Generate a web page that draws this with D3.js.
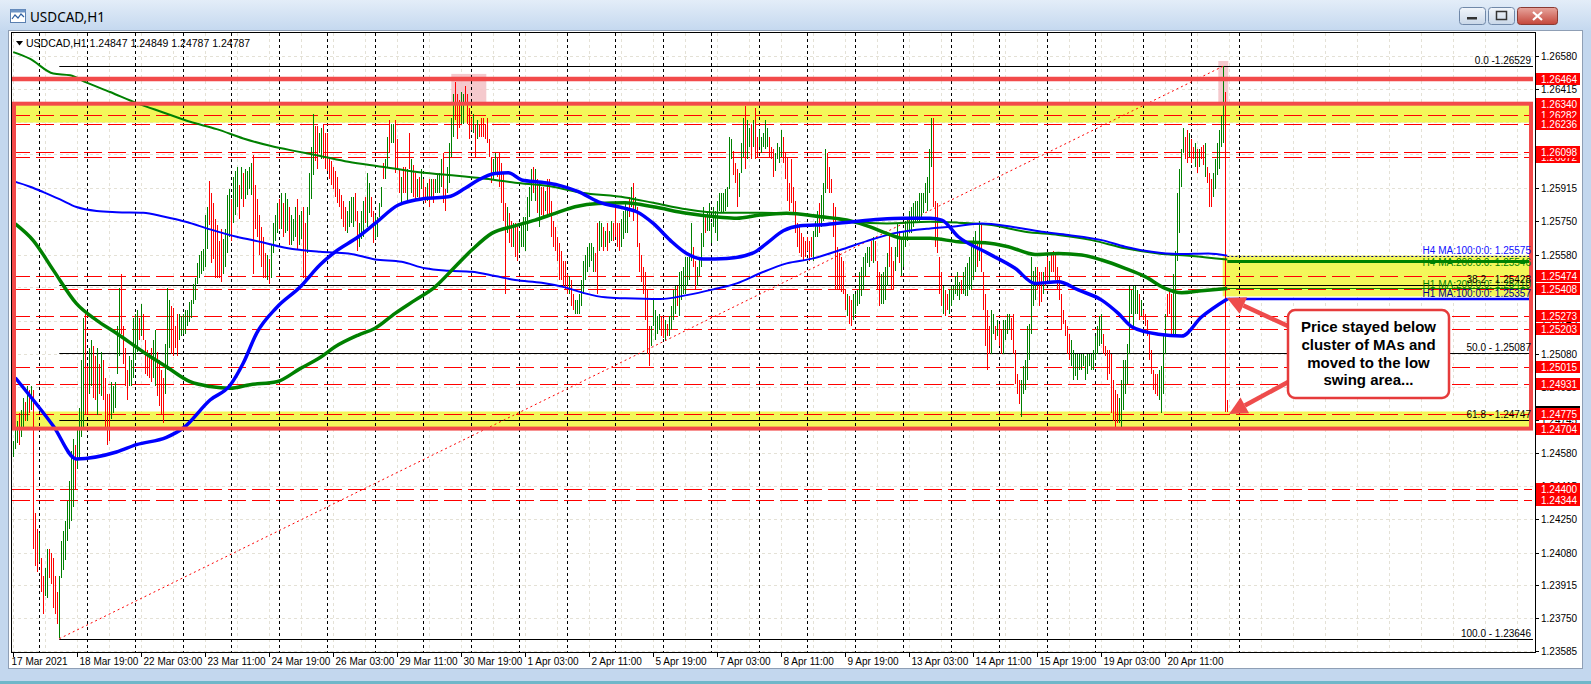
<!DOCTYPE html>
<html><head><meta charset="utf-8">
<script src="https://cdn.jsdelivr.net/npm/d3@7"></script>
<style>
html,body{margin:0;padding:0;background:#c3d7ee;overflow:hidden;}
svg{display:block;}
</style></head><body>
<svg id="c" width="1591" height="684"></svg>
<script>
// ---------------- DATA ----------------
// prices are stored in pips above 1.2000 (v -> 1.2 + v/10000)
const BASE = 1.2, PIP = 1e-4;
const symbolTitle = "USDCAD,H1";
const lastQuote = ["1.24847","1.24849","1.24787","1.24787"];

// one row per trading day (17 Mar 11:00 ... 21 Apr 18:00), hourly bars
const barHigh = [
464,470,474,478,480,486,484,492,490,492,490,428,420,
418,405,396,400,410,410,408,405,396,388,396,414,419,424,434,444,459,465,462,470,481,505,526,528,
502,511,515,512,507,511,503,509,505,496,488,488,494,492,494,522,541,548,522,511,500,507,505,526,
528,530,526,533,528,515,510,507,511,515,520,509,505,500,496,513,541,535,532,531,522,528,528,527,
528,530,530,534,535,543,546,554,558,560,561,578,582,595,589,584,576,573,565,571,566,571,588,591,
586,597,600,602,593,602,599,601,600,602,604,608,593,586,578,572,567,559,558,556,563,574,578,584,
586,589,584,589,586,582,578,576,582,586,578,580,582,574,582,599,612,629,623,623,619,622,624,619,
619,607,605,602,600,597,591,588,585,582,580,585,587,587,589,580,574,580,585,587,599,594,587,580,
578,577,584,592,604,606,617,626,624,624,626,616,601,597,602,602,601,619,606,603,599,596,597,601,
596,592,594,596,596,596,596,598,599,606,609,591,602,614,627,639,645,639,636,640,639,643,639,632,
627,629,624,626,624,627,627,624,627,616,607,606,609,607,609,604,599,584,582,579,575,574,574,572,
570,574,577,577,587,592,601,602,601,596,594,592,592,590,596,596,585,575,572,567,564,560,555,555,
548,547,545,538,535,535,538,545,555,558,562,564,564,562,559,574,575,574,572,570,574,570,575,574,
585,574,574,576,580,584,582,587,592,594,587,582,564,558,552,549,540,522,522,535,530,527,528,527,
526,525,523,527,532,540,542,542,549,550,552,557,557,557,574,562,555,552,557,569,582,577,580,584,
574,582,580,585,589,589,589,591,592,617,616,610,604,601,599,614,627,633,626,622,624,626,632,617,
621,617,619,626,622,617,612,611,609,614,612,621,617,609,607,594,606,592,585,574,572,569,567,565,
567,565,567,570,575,580,584,588,594,611,609,602,596,584,582,562,559,557,555,540,538,537,535,538,
538,540,549,552,557,559,562,562,565,567,565,555,549,548,549,552,559,569,562,555,562,574,570,567,
570,575,577,580,582,584,585,585,589,589,589,594,597,611,627,627,585,584,557,549,542,540,538,540,
542,542,547,549,544,545,549,552,554,557,562,567,570,565,575,574,549,538,530,522,530,528,522,525,
523,520,525,525,528,528,526,528,510,498,495,495,502,505,522,523,557,550,552,552,549,549,549,552,
557,555,559,560,559,552,547,538,530,525,522,518,515,510,508,508,508,508,508,507,508,508,508,510,
517,522,527,528,518,512,510,510,508,495,490,488,486,495,505,505,513,542,540,542,542,540,538,535,
530,528,525,518,510,500,498,498,500,502,517,528,538,540,538,548,560,589,601,611,622,617,621,619,
616,612,614,611,611,612,613,614,602,599,596,599,606,614,621,628,653,640,485
];
const barLow = [
456,460,463,462,466,471,474,474,478,480,410,401,398,
403,388,377,386,385,395,392,380,377,372,365,395,399,404,414,420,424,431,440,450,455,466,471,477,
477,488,492,486,485,477,488,487,485,470,462,464,475,478,481,498,507,518,503,492,485,492,492,496,
505,509,515,517,515,498,497,496,494,496,492,487,482,477,473,488,500,511,508,507,511,507,515,517,
518,518,522,524,526,533,535,543,546,548,550,552,561,573,554,556,546,546,546,544,548,552,559,567,
565,574,578,582,576,586,582,586,588,591,588,548,571,567,558,552,546,546,545,543,546,559,565,569,
571,571,567,569,570,563,563,565,567,561,563,566,546,544,559,578,586,598,605,601,609,606,606,601,
600,596,593,591,587,584,582,576,572,570,569,572,574,572,575,560,562,566,567,574,572,579,577,564,
566,567,577,582,596,596,602,609,614,614,599,601,589,584,589,589,585,601,589,587,585,587,585,591,
586,584,585,582,587,584,589,589,589,592,584,580,589,594,607,617,626,616,622,624,624,634,624,616,
621,619,607,616,617,617,617,616,614,607,594,596,599,597,592,584,575,538,569,564,562,562,557,555,
559,562,562,560,570,577,585,589,585,579,572,578,577,580,577,577,567,562,560,555,545,545,542,540,
538,538,532,530,528,528,528,532,538,545,549,552,555,549,549,538,560,562,560,562,560,564,565,565,
567,562,560,562,566,569,569,577,582,575,579,562,549,544,538,525,508,502,512,522,515,518,520,517,
516,515,517,517,520,525,528,532,527,535,538,538,542,545,555,552,540,542,547,552,562,569,570,570,
564,572,569,565,580,579,579,580,582,591,606,598,594,582,587,599,607,601,606,612,606,612,606,607,
612,609,612,611,612,607,606,597,600,606,604,607,604,596,585,580,584,579,569,562,559,557,555,557,
560,555,557,555,567,567,569,572,575,589,591,589,589,567,540,540,540,539,538,530,527,523,522,525,
528,532,533,537,540,547,554,552,555,554,555,540,532,533,533,535,542,552,540,540,550,557,554,547,
552,562,565,569,569,572,574,575,575,577,579,584,580,589,602,582,562,559,538,532,528,527,530,528,
532,535,538,537,535,538,538,537,537,540,540,545,549,552,555,549,530,512,500,508,508,518,515,517,
512,508,508,515,518,520,515,508,493,488,483,476,488,490,495,505,518,532,535,540,532,534,538,542,
545,543,549,549,545,540,535,520,523,517,508,505,502,495,497,495,500,500,502,495,498,502,500,500,
505,508,512,513,508,507,495,498,478,474,471,473,473,471,480,488,493,508,528,522,528,528,525,527,
525,522,517,505,498,490,488,487,485,478,488,508,527,528,517,518,518,555,569,592,609,606,604,607,
604,606,602,599,602,606,603,597,594,582,582,587,591,598,601,612,614,479,479
];
// g = up bar (green), r = down bar (red)
const barDir =
"gggrggrgrgrrr"+
"grrggrrrrrggggggggrggggr"+"rggrrgrgrrrrgggggrrrrggg"+"ggrgrrrrrggrrrrgggrrrrgg"+
"gggggggggggggrrrrrrrgggg"+"rgggrgrggggrrrrrrrgrgggg"+"rgrggrgggrggrrggggrrggrr"+
"rrrrrrrrrrggggrrgggrggrr"+"ggggrggrggrrrgrrgrgrrgrg"+"rrgrgrggggrrggggrrrggrrr"+
"rgrgrrrrrrrggrrrrrgrrgrr"+"gggggggrgrgrrgrrrrrrrrrr"+"rgrrggggggggggrrggrgrggr"+
"rrrggggrgrgrrrrrrrgggggr"+"rgrggggrgggggggrrggggrgg"+"gggggggggggrrrgggrggrgrr"+
"gggggrrrggggrrrrrrrrrrrr"+"rrrgggrgggrrrrrrrrrrgrrg"+"ggggggggrgrrrggggrrrggrg"+
"gggggggggggggggrrrrrgrrg"+"gggggrgggggggrgrrrrrggrg"+"rrggggrrrrrggggggggrrrgr"+
"rgrrrrrrrrrrgggggggggggg"+"ggggrrrrrrrrggggggggggrg"+"rrrrrrrrggggrrrggggggrrg"+
"rrgrgrrgrrrggggggrr";

// moving averages: [bar index, pips]
const maH1_100 = [[1,496],[20,471.7],[31.6,455.1],[51.6,458.6],[61.6,462.3],[76.6,466],[85,470.7],[98.4,484.8],[108.4,492.2],[115,503.4],[121.7,518.5],[131.7,531.4],[143.4,541.7],[153.4,552.9],[160.9,559.4],[172.5,567],[180.9,573.7],[192.5,583],[205.9,586.3],[217.5,587.1],[225.9,591.4],[232.5,595.6],[240.9,598.9],[247.5,599.2],[254.2,595.6],[264.2,594.4],[272.5,593],[282.5,589.7],[292.5,584.6],[305.9,581.3],[311.7,579.6],[320,573.7],[328.4,565.3],[336.7,558.6],[345,555.8],[356.7,556.1],[370,558.9],[376.7,563.7],[385,570],[393.4,572.5],[406.7,573.2],[420,574.6],[433.4,575.8],[445,576.3],[458.4,576.3],[464.2,575.4],[472.5,567],[485.9,559.4],[500.9,551.1],[510.9,543.5],[522.5,544.3],[532.5,540.2],[544.2,535.1],[552.5,528.4],[559.2,521.7],[572.5,517.9],[584.2,517],[594.2,526.7],[607,535.7]];
const maH1_200 = [[1,573.5],[10,565.1],[20,550.2],[31.6,533.3],[41.7,524.9],[51.6,518.4],[65,509],[76.6,501.5],[88.4,494],[98.4,491.6],[108.4,490.7],[118.4,492.5],[131.7,494],[143.4,500.6],[153.4,506.2],[160.9,511.6],[172.5,517.5],[180.9,520.9],[190.9,528.4],[200.9,535.1],[210.9,541.8],[220.9,551.9],[229.2,560.3],[239.2,568.7],[250.9,572.5],[260.9,575.4],[270.9,578.8],[280.9,582.1],[292.5,583.8],[305.9,584.1],[320,582.1],[336.7,578.8],[353.4,576.8],[361.7,576.3],[373.4,577.9],[386.7,578.8],[403.4,577.1],[416.7,575.4],[428.4,572],[436.7,568.7],[445,566.2],[458.4,566.2],[472.5,564.5],[485.9,564],[497.5,562],[510.9,558.1],[522.5,558.6],[534.2,557.8],[544.2,555.3],[555.9,551.1],[565.9,546.9],[575.9,541],[584.2,538.8],[594.2,539.8],[607,541]];
const maH4_100 = [[0,595],[8.4,592.2],[15,589.5],[23.4,585.8],[31.6,582],[41.7,580],[51.6,579.4],[65,579.1],[75,577.2],[86.7,574.4],[98.4,570.7],[111.7,567],[125,564.1],[136.7,561.3],[153.4,559.4],[167.5,558.6],[180.9,555.6],[194.2,554.4],[205.9,551.1],[217.5,549.9],[229.2,549.4],[240.9,547.2],[250.9,545.2],[264.2,543.8],[275.9,541.5],[285.9,538.5],[295.9,536.5],[305.9,536],[323.4,535.6],[336.7,537.6],[350,540.5],[361.7,543.5],[373.4,548.6],[386.7,553.6],[400,556.1],[413.4,560.3],[426.7,564.8],[440,568.7],[458.4,571.2],[469.2,572],[484.2,573.7],[499.2,572],[514.2,569.5],[527.5,567.9],[544.2,565.3],[555.9,562],[569.2,559.4],[582.5,558.3],[597.5,558.6],[607,557.5]];
const maH4_200 = [[0,660],[8.2,656.7],[20,649.2],[28.4,648.3],[36.7,644.6],[48.4,639.9],[61.7,634.3],[75,629.6],[88.4,624.9],[101.7,621.2],[115,616.5],[128.4,612.8],[141.7,610],[153.4,607.7],[167.5,604.8],[184.2,602.3],[200.9,599.7],[217.5,598.1],[234.2,596.4],[250.9,594.2],[267.5,592.5],[284.2,589.2],[305.9,586.8],[320,584.1],[336.7,580.8],[353.4,579.1],[370,579.1],[386.7,578.8],[403.4,577.4],[420,574.6],[436.7,573.7],[458.4,574.6],[472.5,574.1],[489.2,572.9],[505.9,569.5],[522.5,567.9],[539.2,565.3],[555.9,561.2],[572.5,558.6],[589.2,557.3],[607,555.5]];

const maLabels = [
  {text:"H4 MA:100:0:0: 1.25575", price:1.25575, color:"#1010ff", dy:-2},
  {text:"H4 MA:200:0:0: 1.25546", price:1.25546, color:"#008000", dy:5},
  {text:"H1 MA:200:0:0: 1.25410", price:1.25410, color:"#008000", dy:0},
  {text:"H1 MA:100:0:0: 1.25357", price:1.25357, color:"#00008b", dy:-2}
];

const xTickLabels = ["17 Mar 2021","18 Mar 19:00","22 Mar 03:00","23 Mar 11:00","24 Mar 19:00","26 Mar 03:00","29 Mar 11:00","30 Mar 19:00","1 Apr 03:00","2 Apr 11:00","5 Apr 19:00","7 Apr 03:00","8 Apr 11:00","9 Apr 19:00","13 Apr 03:00","14 Apr 11:00","15 Apr 19:00","19 Apr 03:00","20 Apr 11:00"];
const yTickValues = [1.26580,1.26415,1.26250,1.26085,1.25915,1.25750,1.25580,1.25415,1.25245,1.25080,1.24915,1.24745,1.24580,1.24415,1.24250,1.24080,1.23915,1.23750,1.23585];

const dashedLevels = [1.26282,1.26236,1.26098,1.26072,1.25474,1.25408,1.25273,1.25203,1.25015,1.24931,1.24775,1.24400,1.24344];
const keyLevel = 1.26464;
const zoneTop = 1.26340, zoneBottom = 1.24704;
const redLabelOrder = [1.26464,1.26340,1.26282,1.26236,1.26072,1.26098,1.25474,1.25408,1.25273,1.25203,1.25015,1.24931,1.24775,1.24704,1.24400,1.24344];
const bidPrice = 1.24787;

const fibLevels = ["0.0","38.2","50.0","61.8","100.0"];
const fibPrices = [1.26529,1.25428,1.25087,1.24747,1.23646];
const fibLabels = ["0.0 -1.26529","38.2 - 1.25428","50.0 - 1.25087","61.8 - 1.24747","100.0 - 1.23646"];
const fibLowBar = 23, fibHighBar = 605;

const calloutLines = ["Price stayed below","cluster of MAs and","moved to the low","swing area..."];

// ---------------- DRAW ----------------
const toPrice = v => BASE + v*PIP;
const svg = d3.select('#c');
const W = 1591, H = 684;
const L = 12, R = 1535, T = 33, B = 652;
const x = d3.scaleLinear().domain([0, (R-13.3)/2]).range([13.3, R]);
const y = d3.scaleLinear().domain([1.23579, 1.26696]).range([B, T]);
const FONT = "'Liberation Sans', Arial, sans-serif";

const defs = svg.append('defs');
const tg = defs.append('linearGradient').attr('id','tb').attr('x1',0).attr('y1',0).attr('x2',0).attr('y2',1);
tg.append('stop').attr('offset','0%').attr('stop-color','#e3edf8');
tg.append('stop').attr('offset','100%').attr('stop-color','#c4d8ef');
const bg2 = defs.append('linearGradient').attr('id','btn').attr('x1',0).attr('y1',0).attr('x2',0).attr('y2',1);
bg2.append('stop').attr('offset','0%').attr('stop-color','#f2f6fb');
bg2.append('stop').attr('offset','100%').attr('stop-color','#c9d7e8');
const bg3 = defs.append('linearGradient').attr('id','cls').attr('x1',0).attr('y1',0).attr('x2',0).attr('y2',1);
bg3.append('stop').attr('offset','0%').attr('stop-color','#e7a59d');
bg3.append('stop').attr('offset','100%').attr('stop-color','#c4463a');
defs.append('clipPath').attr('id','plot').append('rect').attr('x',L).attr('y',T).attr('width',R-L).attr('height',B-T);

// window chrome
svg.append('rect').attr('width',W).attr('height',H).attr('fill','#c3d7ee');
svg.append('rect').attr('width',W).attr('height',31).attr('fill','url(#tb)');
svg.append('rect').attr('x',0).attr('y',H-3).attr('width',W).attr('height',3).attr('fill','#6fb7c9');
// title icon
const ic = svg.append('g').attr('transform','translate(10,9)');
ic.append('rect').attr('x',0.5).attr('y',0.5).attr('width',15).attr('height',13).attr('fill','#ffffff').attr('stroke','#5a7fb0');
ic.append('rect').attr('x',0.5).attr('y',0.5).attr('width',15).attr('height',3).attr('fill','#6f95c6');
ic.append('path').attr('d','M2,10 L5,6 L8,9 L11,5 L14,8').attr('fill','none').attr('stroke','#2f5fa0').attr('stroke-width',1.2);
svg.append('text').attr('x',30).attr('y',22).attr('font-family',"'Noto Sans', 'Open Sans', sans-serif").attr('font-size',13.5).attr('fill','#000').text(symbolTitle);
// window buttons
svg.append('rect').attr('x',1459.5).attr('y',7.5).attr('width',26).attr('height',17).attr('rx',3).attr('fill','url(#btn)').attr('stroke','#7088a8');
svg.append('rect').attr('x',1467).attr('y',17).attr('width',10).attr('height',2.5).attr('fill','#333');
svg.append('rect').attr('x',1488.5).attr('y',7.5).attr('width',26).attr('height',17).attr('rx',3).attr('fill','url(#btn)').attr('stroke','#7088a8');
svg.append('rect').attr('x',1496.5).attr('y',11.5).attr('width',10).attr('height',8).attr('fill','none').attr('stroke','#333').attr('stroke-width',1.5);
svg.append('rect').attr('x',1517.5).attr('y',7.5).attr('width',40).attr('height',17).attr('rx',3).attr('fill','url(#cls)').attr('stroke','#8a3a32');
svg.append('path').attr('d','M1533,12 L1542,20 M1542,12 L1533,20').attr('stroke','#fff').attr('stroke-width',2.2);

// chart panel
svg.append('rect').attr('x',8.5).attr('y',30.5).attr('width',1574).attr('height',638).attr('fill','#ffffff').attr('stroke','#8f9fb5');

const plot = svg.append('g').attr('clip-path','url(#plot)');

// grid
plot.selectAll('.hg').data(yTickValues).enter().append('line')
  .attr('x1',L).attr('x2',R).attr('y1',d=>Math.round(y(d))+0.5).attr('y2',d=>Math.round(y(d))+0.5)
  .attr('stroke','#e4e1d6').attr('stroke-dasharray','3,3');
plot.selectAll('.vg').data(d3.range(0, 48)).enter().append('line')
  .attr('x1',k=>Math.round(x(16*k))+0.5).attr('x2',k=>Math.round(x(16*k))+0.5).attr('y1',T).attr('y2',B)
  .attr('stroke','#e4e1d6').attr('stroke-dasharray','3,3');

// yellow zones
plot.append('rect').attr('x',L).attr('y',y(zoneTop)).attr('width',1532-L).attr('height',y(1.26245)-y(zoneTop)).attr('fill','#f3f75a');
plot.append('rect').attr('x',L).attr('y',y(1.24790)).attr('width',1532-L).attr('height',y(zoneBottom)-y(1.24790)).attr('fill','#f3f75a');
plot.append('rect').attr('x',x(604.7)).attr('y',y(1.25575)).attr('width',1532-x(604.7)).attr('height',y(1.25370)-y(1.25575)).attr('fill','#f3f75a');
// pink highlight boxes
plot.append('rect').attr('x',x(219)).attr('y',y(1.26490)).attr('width',x(236.5)-x(219)).attr('height',y(zoneTop)-y(1.26490)).attr('fill','#f4c3c8').attr('opacity',0.9);
plot.append('rect').attr('x',x(602.5)).attr('y',y(1.26555)).attr('width',x(607.5)-x(602.5)).attr('height',y(zoneTop)-y(1.26555)).attr('fill','#f4c3c8').attr('opacity',0.9);

// day separators
plot.selectAll('.ds').data(d3.range(0, 26)).enter().append('line')
  .attr('x1',k=>Math.round(x(13+24*k))+0.5).attr('x2',k=>Math.round(x(13+24*k))+0.5).attr('y1',T).attr('y2',B)
  .attr('stroke','#000').attr('stroke-dasharray','3,3');

// dashed levels
plot.selectAll('.dl').data(dashedLevels).enter().append('line')
  .attr('x1',L).attr('x2',1532).attr('y1',d=>Math.round(y(d))+0.5).attr('y2',d=>Math.round(y(d))+0.5)
  .attr('stroke','#ff0000').attr('stroke-dasharray','18,6');

// fib
plot.selectAll('.fl').data(fibPrices).enter().append('line')
  .attr('x1',x(fibLowBar)).attr('x2',1533).attr('y1',d=>Math.round(y(d))+0.5).attr('y2',d=>Math.round(y(d))+0.5)
  .attr('stroke','#000').attr('stroke-width',1);
plot.append('line').attr('x1',x(fibLowBar)).attr('y1',y(fibPrices[4])).attr('x2',x(fibHighBar)).attr('y2',y(fibPrices[0]))
  .attr('stroke','#ff0000').attr('stroke-dasharray','2,3');

// bars
const bars = barHigh.map((h,i)=>({i, h:toPrice(h), l:toPrice(barLow[i]), up: barDir[i]==='g'}));
plot.selectAll('.bar').data(bars).enter().append('line')
  .attr('x1',d=>Math.round(x(d.i))+0.5).attr('x2',d=>Math.round(x(d.i))+0.5)
  .attr('y1',d=>Math.round(y(d.h))).attr('y2',d=>Math.max(Math.round(y(d.l)), Math.round(y(d.h))+1))
  .attr('stroke',d=>d.up?'#008000':'#ff0000').attr('stroke-width',1);

// moving averages
const ln = d3.line().x(d=>x(d[0])).y(d=>y(toPrice(d[1]))).curve(d3.curveMonotoneX);
plot.append('path').attr('d',ln(maH4_200)).attr('fill','none').attr('stroke','#008000').attr('stroke-width',2);
plot.append('path').attr('d',ln(maH4_100)).attr('fill','none').attr('stroke','#0000ff').attr('stroke-width',2);
plot.append('path').attr('d',ln(maH1_200)).attr('fill','none').attr('stroke','#008000').attr('stroke-width',3.5);
plot.append('path').attr('d',ln(maH1_100)).attr('fill','none').attr('stroke','#0000ff').attr('stroke-width',3.5);
// MA projection lines to the right
const xr0 = x(607);
plot.append('line').attr('x1',xr0).attr('x2',1532).attr('y1',Math.round(y(1.25575))+0.5).attr('y2',Math.round(y(1.25575))+0.5).attr('stroke','#000080').attr('stroke-dasharray','2,2');
plot.append('line').attr('x1',xr0).attr('x2',1532).attr('y1',y(1.25546)).attr('y2',y(1.25546)).attr('stroke','#008000').attr('stroke-width',3);
plot.append('line').attr('x1',xr0).attr('x2',1532).attr('y1',Math.round(y(1.25410))+0.5).attr('y2',Math.round(y(1.25410))+0.5).attr('stroke','#008000').attr('stroke-width',1);
plot.append('line').attr('x1',xr0).attr('x2',1532).attr('y1',y(1.25357)).attr('y2',y(1.25357)).attr('stroke','#0000ff').attr('stroke-width',2.5);

// key level and zone rectangle
plot.append('line').attr('x1',L).attr('x2',1533).attr('y1',y(keyLevel)).attr('y2',y(keyLevel)).attr('stroke','#f24a4a').attr('stroke-width',4.5);
plot.append('rect').attr('x',L+2).attr('y',y(zoneTop)).attr('width',1531-L-2).attr('height',y(zoneBottom)-y(zoneTop))
  .attr('fill','none').attr('stroke','#f24a4a').attr('stroke-width',4);

// texts in chart: fib + MA labels
const tg2 = svg.append('g').attr('font-family',FONT).attr('font-size',10);
maLabels.forEach(m=>{
  tg2.append('text').attr('x',1531).attr('y',y(m.price)+m.dy).attr('text-anchor','end').attr('fill',m.color).text(m.text);
});
fibLabels.forEach((t,k)=>{
  tg2.append('text').attr('x',1531).attr('y',Math.round(y(fibPrices[k]))-2).attr('text-anchor','end').attr('fill','#000').text(t);
});

// frame + axes
svg.append('rect').attr('x',L-0.5).attr('y',T-0.5).attr('width',R-L+1).attr('height',B-T+1).attr('fill','none').attr('stroke','#000');
const ax = svg.append('g').attr('font-family',FONT).attr('font-size',10).attr('fill','#000');
yTickValues.forEach(v=>{
  const yy = Math.round(y(v))+0.5;
  ax.append('line').attr('x1',R).attr('x2',R+4).attr('y1',yy).attr('y2',yy).attr('stroke','#000');
  ax.append('text').attr('x',R+6).attr('y',yy+3.5).text(v.toFixed(5));
});
xTickLabels.forEach((t,k)=>{
  const xx = Math.round(x(32*k))+0.5;
  ax.append('line').attr('x1',xx).attr('x2',xx).attr('y1',B).attr('y2',B+5).attr('stroke','#000');
  ax.append('text').attr('x',k===0?xx-2:xx+2).attr('y',B+13).text(t);
});
// bid label
ax.append('rect').attr('x',R+1).attr('y',Math.round(y(bidPrice))-6).attr('width',44).attr('height',12).attr('fill','#000');
ax.append('text').attr('x',R+6).attr('y',Math.round(y(bidPrice))+4).attr('fill','#fff').text(bidPrice.toFixed(5));
// red level labels
redLabelOrder.forEach(v=>{
  const yy = Math.round(y(v));
  ax.append('rect').attr('x',R+1).attr('y',yy-6).attr('width',44).attr('height',12).attr('fill','#ff0000');
  ax.append('text').attr('x',R+6).attr('y',yy+4).attr('fill','#fff').text(v.toFixed(5));
});

// header
const hd = svg.append('g').attr('font-family',FONT).attr('font-size',10.5);
hd.append('path').attr('d','M16,41 L23,41 L19.5,45.5 Z').attr('fill','#000');
hd.append('text').attr('x',26).attr('y',47).text(symbolTitle+"  "+lastQuote.join(" "));

// callout with arrows
const ARC = '#ee4c4c';
function arrow(x1,y1,x2,y2){
  const a = Math.atan2(y2-y1,x2-x1), len=18, hw=9;
  const bx = x2 - len*Math.cos(a), by = y2 - len*Math.sin(a);
  svg.append('line').attr('x1',x1).attr('y1',y1).attr('x2',bx).attr('y2',by).attr('stroke',ARC).attr('stroke-width',4.5);
  const p1=[bx+hw*Math.sin(a), by-hw*Math.cos(a)], p2=[bx-hw*Math.sin(a), by+hw*Math.cos(a)];
  svg.append('path').attr('d',`M${x2},${y2} L${p1[0]},${p1[1]} L${p2[0]},${p2[1]} Z`).attr('fill',ARC);
}
arrow(1290,327,1227,298);
arrow(1290,381,1229,414);
svg.append('rect').attr('x',1288).attr('y',310).attr('width',161).attr('height',88).attr('rx',7)
  .attr('fill','#ffffff').attr('stroke','#e63b3b').attr('stroke-width',2.5);
const ct = svg.append('g').attr('font-family',FONT).attr('font-size',15).attr('font-weight','bold').attr('text-anchor','middle');
calloutLines.forEach((t,k)=>ct.append('text').attr('x',1368.5).attr('y',332+k*17.8).text(t));
</script></body></html>
